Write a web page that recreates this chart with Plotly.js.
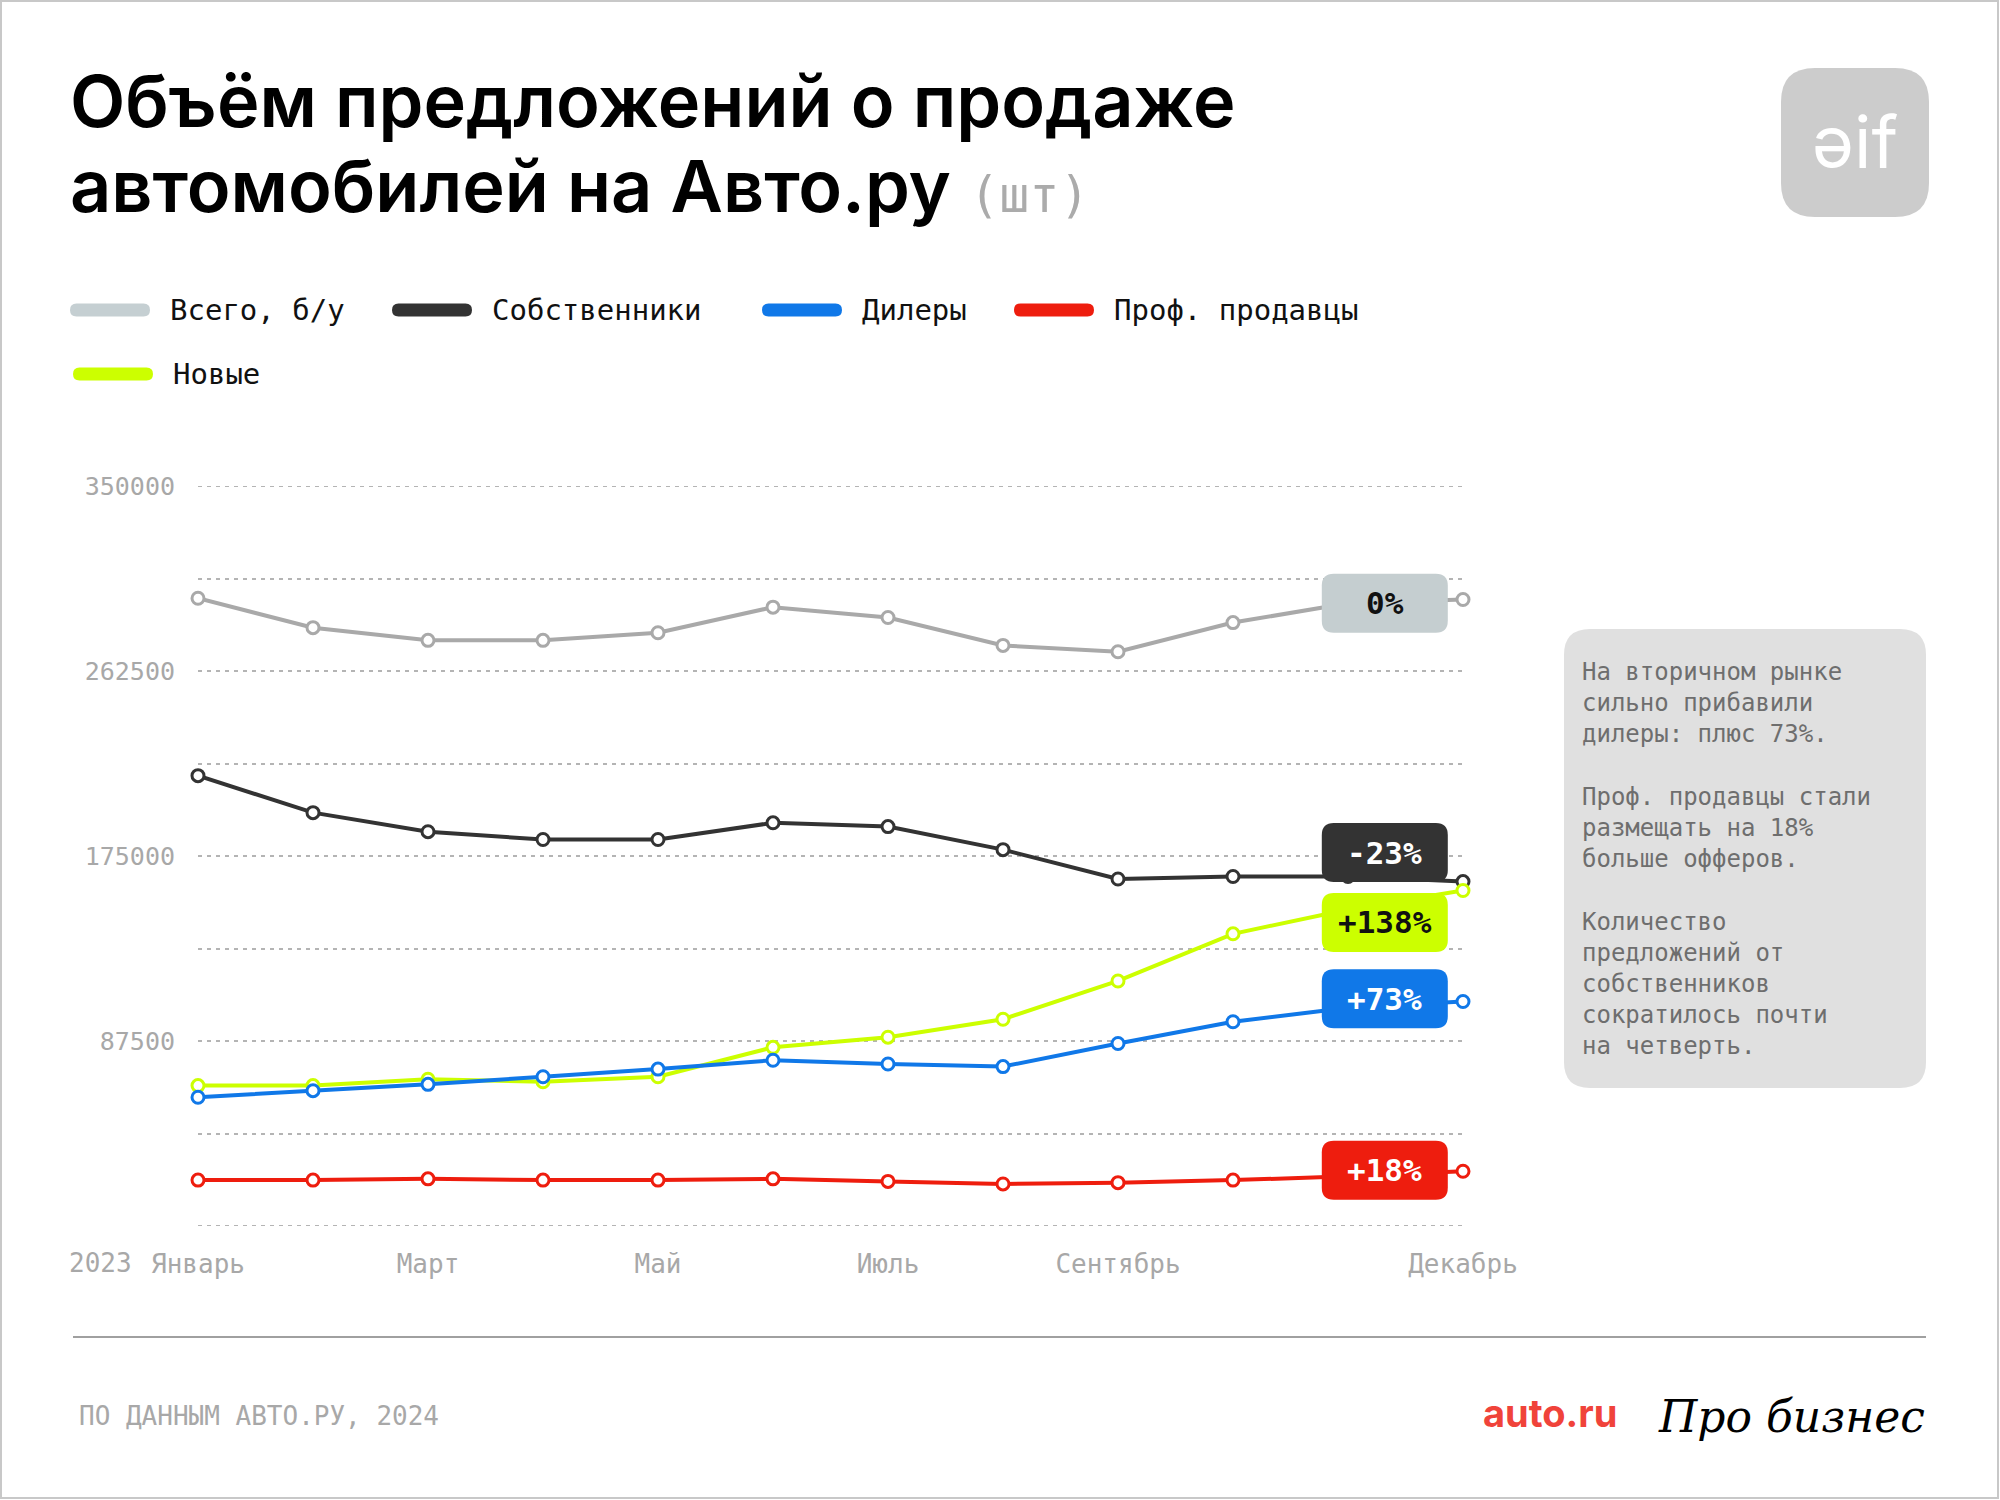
<!DOCTYPE html>
<html>
<head>
<meta charset="utf-8">
<script src="https://cdn.plot.ly/plotly-3.0.1.min.js"></script>
<style>
  html, body { margin: 0; padding: 0; background: #ffffff; }
  #chart { width: 2000px; height: 1500px; }
</style>
</head>
<body>
<div id="chart"></div>
<script>
// ---------------- DATA ----------------
const months = ['Январь','Февраль','Март','Апрель','Май','Июнь','Июль','Август','Сентябрь','Октябрь','Ноябрь','Декабрь'];
const tickMonths = ['Январь','Март','Май','Июль','Сентябрь','Декабрь'];
const yearLabel = '2023';

const seriesNames = ['Всего, б/у','Собственники','Дилеры','Проф. продавцы','Новые'];
const totalUsed = [296900, 283000, 277000, 277000, 280600, 292700, 287800, 274600, 271600, 285400, 294500, 296300];
const owners    = [213000, 195500, 186500, 182800, 182800, 190700, 188900, 178000, 164100, 165300, 165300, 162900];
const dealers   = [60900, 64000, 67000, 70600, 74200, 78400, 76600, 75400, 86300, 96600, 103200, 106200];
const proSellers= [21700, 21700, 22300, 21700, 21700, 22300, 21100, 19900, 20500, 21700, 23500, 25900];
const newCars   = [66400, 66400, 69400, 68200, 70600, 84500, 89300, 97800, 115900, 138200, 149700, 158700];

const badgeLabels = ['0%','-23%','+73%','+18%','+138%'];

const yTickVals = [0, 43750, 87500, 131250, 175000, 218750, 262500, 306250, 350000];
const yTickText = ['', '', '87500', '', '175000', '', '262500', '', '350000'];
const yMin = 0, yMax = 350000;

const titleLine1 = 'Объём предложений о продаже';
const titleLine2 = 'автомобилей на Авто.ру';
const titleUnit = '(шт)';
const noteText = ['На вторичном рынке','сильно прибавили','дилеры: плюс 73%.','','Проф. продавцы стали','размещать на 18%','больше офферов.','','Количество','предложений от','собственников','сократилось почти','на четверть.'];
const sourceText = 'ПО ДАННЫМ АВТО.РУ, 2024';

// ---------------- STYLE ----------------
const MONO = 'DejaVu Sans Mono, monospace';
const SANS = 'Inter, Roboto, sans-serif';
const seriesData = [totalUsed, owners, dealers, proSellers, newCars];
const lineColors = ['#a9a9a9', '#333333', '#1078e8', '#ee1d0e', '#ccff00'];
const swatchColors = ['#c5cfd2', '#333333', '#1078e8', '#ee1d0e', '#ccff00'];
const badgeFill = ['#c5ced0', '#333333', '#1078e8', '#ee1d0e', '#ccff00'];
const badgeTextColor = ['#111111', '#ffffff', '#ffffff', '#ffffff', '#111111'];
const badgeDy = [0, 24, 9, 6, -13];    // pixel offset of badge from the Nov point
const drawOrder = [0, 1, 4, 2, 3];
const GRID_COLOR = '#b4b4b4', GRID_DASH = '4px,5px';

// page geometry (px)
const L = 198, T = 486, W = 1265, H = 740;
const PX = x => (x - L) / W;
const PY = y => 1 - (y - T) / H;

function rrPage(x0, y0, x1, y1, r) {
  const p = (x, y) => PX(x) + ',' + PY(y);
  return 'M' + p(x0 + r, y0) + ' L' + p(x1 - r, y0) + ' Q' + p(x1, y0) + ' ' + p(x1, y0 + r) +
         ' L' + p(x1, y1 - r) + ' Q' + p(x1, y1) + ' ' + p(x1 - r, y1) +
         ' L' + p(x0 + r, y1) + ' Q' + p(x0, y1) + ' ' + p(x0, y1 - r) +
         ' L' + p(x0, y0 + r) + ' Q' + p(x0, y0) + ' ' + p(x0 + r, y0) + ' Z';
}
function rrPix(hw, hh, dy, r) {
  const x0 = -hw, x1 = hw, y0 = dy - hh, y1 = dy + hh;
  const p = (x, y) => x + ',' + y;
  return 'M' + p(x0 + r, y0) + ' L' + p(x1 - r, y0) + ' Q' + p(x1, y0) + ' ' + p(x1, y0 + r) +
         ' L' + p(x1, y1 - r) + ' Q' + p(x1, y1) + ' ' + p(x1 - r, y1) +
         ' L' + p(x0 + r, y1) + ' Q' + p(x0, y1) + ' ' + p(x0, y1 - r) +
         ' L' + p(x0, y0 + r) + ' Q' + p(x0, y0) + ' ' + p(x0 + r, y0) + ' Z';
}

// ---------------- TRACES ----------------
const traces = drawOrder.map(i => ({
  type: 'scatter',
  mode: 'lines+markers',
  name: seriesNames[i],
  x: months,
  y: seriesData[i],
  line: { color: lineColors[i], width: 4 },
  marker: { size: 12, color: '#ffffff', line: { color: lineColors[i], width: 3 } },
  cliponaxis: false,
  hoverinfo: 'x+y+name',
  showlegend: false
}));

// ---------------- SHAPES & ANNOTATIONS ----------------
const shapes = [];
const annotations = [];

// outer frame
shapes.push({ type: 'rect', xref: 'paper', yref: 'paper', x0: PX(1), x1: PX(1998), y0: PY(1), y1: PY(1498),
  line: { color: '#c8c8c8', width: 2 }, fillcolor: 'rgba(0,0,0,0)', layer: 'below' });

// edge gridlines (Plotly skips grid lines at the range edges)
[yMin, yMax].forEach(v => {
  shapes.push({ type: 'line', xref: 'paper', yref: 'y', x0: 0, x1: 1, y0: v, y1: v,
    line: { color: GRID_COLOR, width: 2, dash: GRID_DASH }, layer: 'below' });
});

// title
annotations.push({ xref: 'paper', yref: 'paper', x: PX(68), y: PY(100), xanchor: 'left', yanchor: 'middle',
  text: titleLine1, showarrow: false, font: { family: SANS, size: 72, weight: 600, color: '#000000' } });
annotations.push({ xref: 'paper', yref: 'paper', x: PX(68), y: PY(186), xanchor: 'left', yanchor: 'middle',
  text: titleLine2 + ' <span style="font-family:DejaVu Sans Mono;font-weight:300;color:#ababab;font-size:50px">' + titleUnit + '</span>',
  showarrow: false, font: { family: SANS, size: 72, weight: 600, color: '#000000' } });

// logo
shapes.push({ type: 'path', xref: 'paper', yref: 'paper', path: rrPage(1781, 68, 1929, 217, 34),
  fillcolor: '#cccccc', line: { width: 0 }, layer: 'above' });
annotations.push({ xref: 'paper', yref: 'paper', x: PX(1855), y: PY(142), xanchor: 'center', yanchor: 'middle',
  text: 'ǝif', showarrow: false, font: { family: SANS, size: 72, color: '#ffffff' } });

// custom legend
const legendX = [70, 392, 762, 1014, 73];
const legendY = [310, 310, 310, 310, 374];
seriesNames.forEach((name, i) => {
  shapes.push({ type: 'path', xref: 'paper', yref: 'paper',
    path: rrPage(legendX[i], legendY[i] - 6.5, legendX[i] + 80, legendY[i] + 6.5, 6.5),
    fillcolor: swatchColors[i], line: { width: 0 } });
  annotations.push({ xref: 'paper', yref: 'paper', x: PX(legendX[i] + 98), y: PY(legendY[i]),
    xanchor: 'left', yanchor: 'middle', text: name, showarrow: false,
    font: { family: MONO, size: 29, color: '#111111' } });
});

// year label in front of first tick
annotations.push({ xref: 'paper', yref: 'paper', x: PX(134), y: PY(1263), xanchor: 'right', yanchor: 'middle',
  text: yearLabel, showarrow: false, font: { family: MONO, size: 26, color: '#a8a8a8' } });

// badges near November
const badgeX = 10.32;
seriesNames.forEach((name, i) => {
  const yv = seriesData[i][10];
  shapes.push({ type: 'path', xref: 'x', yref: 'y', xsizemode: 'pixel', ysizemode: 'pixel',
    xanchor: badgeX, yanchor: yv, path: rrPix(63, 29.5, badgeDy[i], 12),
    fillcolor: badgeFill[i], line: { width: 0 }, layer: 'above' });
  annotations.push({ xref: 'x', yref: 'y', x: badgeX, y: yv, yshift: badgeDy[i],
    xanchor: 'center', yanchor: 'middle', text: badgeLabels[i], showarrow: false,
    font: { family: MONO, size: 31, weight: 600, color: badgeTextColor[i] } });
});

// note box
shapes.push({ type: 'path', xref: 'paper', yref: 'paper', path: rrPage(1564, 629, 1926, 1088, 26),
  fillcolor: '#e0e0e0', line: { width: 0 } });
annotations.push({ xref: 'paper', yref: 'paper', x: PX(1580), y: PY(859), xanchor: 'left', yanchor: 'middle',
  align: 'left', text: noteText.join('<br>'), showarrow: false,
  font: { family: MONO, size: 24, color: '#6e6e6e' } });

// footer
shapes.push({ type: 'line', xref: 'paper', yref: 'paper', x0: PX(73), x1: PX(1926), y0: PY(1337), y1: PY(1337),
  line: { color: '#a0a0a0', width: 2 } });
annotations.push({ xref: 'paper', yref: 'paper', x: PX(77), y: PY(1416), xanchor: 'left', yanchor: 'middle',
  text: sourceText, showarrow: false, font: { family: MONO, size: 26, color: '#a8a8a8' } });
annotations.push({ xref: 'paper', yref: 'paper', x: PX(1481), y: PY(1413), xanchor: 'left', yanchor: 'middle',
  text: '<b>auto.ru</b>', showarrow: false, font: { family: SANS, size: 38, color: '#f0433a' } });
annotations.push({ xref: 'paper', yref: 'paper', x: PX(1656), y: PY(1416), xanchor: 'left', yanchor: 'middle',
  text: '<i>Про бизнес</i>', showarrow: false, font: { family: 'DejaVu Serif, serif', size: 44, color: '#000000' } });

// ---------------- LAYOUT ----------------
const layout = {
  width: 2000, height: 1500,
  margin: { l: L, r: 2000 - L - W, t: T, b: 1500 - T - H, pad: 0 },
  paper_bgcolor: '#ffffff', plot_bgcolor: '#ffffff',
  showlegend: false,
  xaxis: {
    type: 'category', range: [0, 11], tickmode: 'array', tickvals: tickMonths, ticktext: tickMonths,
    showgrid: false, zeroline: false, showline: false,
    ticks: 'outside', ticklen: 15, tickcolor: 'rgba(0,0,0,0)',
    tickfont: { family: MONO, size: 26, color: '#a8a8a8' }, fixedrange: true
  },
  yaxis: {
    range: [yMin, yMax], tickmode: 'array', tickvals: yTickVals, ticktext: yTickText,
    showgrid: true, gridcolor: GRID_COLOR, gridwidth: 2, griddash: GRID_DASH,
    zeroline: false, showline: false,
    ticks: 'outside', ticklen: 17, tickcolor: 'rgba(0,0,0,0)',
    tickfont: { family: MONO, size: 25, color: '#a8a8a8' }, fixedrange: true
  },
  shapes: shapes,
  annotations: annotations
};

Plotly.newPlot('chart', traces, layout, { displayModeBar: false, responsive: false });
</script>
</body>
</html>
